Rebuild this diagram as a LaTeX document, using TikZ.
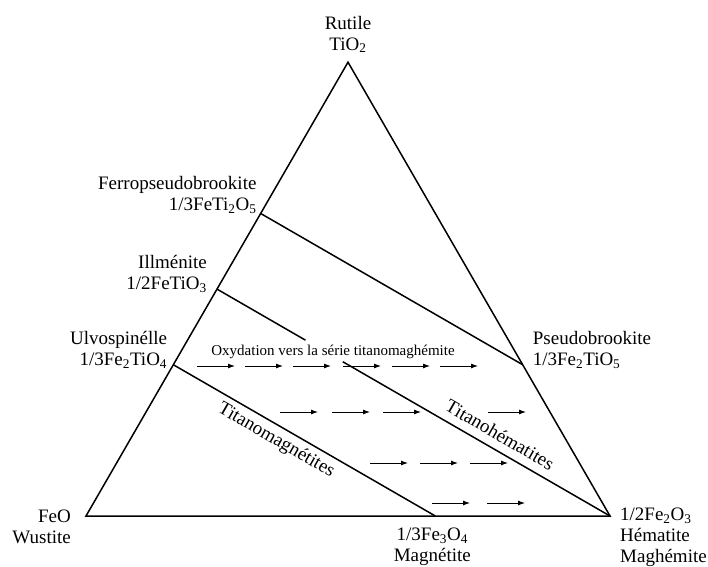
\documentclass[tikz,border=0pt]{standalone}
\usepackage{fontspec}
\setmainfont{Liberation Serif}
\usetikzlibrary{calc,arrows.meta}

\begin{document}
\begin{tikzpicture}[x=1pt,y=1pt,
  edge/.style={line width=1.5pt,line join=miter},
  lbl/.style={font=\fontsize{19}{21}\selectfont,inner sep=0pt},
  oxarrow/.style={line width=0.9pt,-{Latex[length=7pt,width=5pt]}}]
\useasboundingbox (0,0) rectangle (708,566);
\coordinate (FeO) at (86,50); \coordinate (Hem) at (610,50); \coordinate (Rut) at (348,503.8);
\coordinate (Ulv) at ($(FeO)!1/3!(Rut)$); \coordinate (Ilm) at ($(FeO)!1/2!(Rut)$);
\coordinate (Fpb) at ($(FeO)!2/3!(Rut)$); \coordinate (Psb) at ($(Hem)!1/3!(Rut)$);
\coordinate (Mag) at ($(FeO)!2/3!(Hem)$);
\draw[edge] (FeO)--(Hem)--(Rut)--cycle;
\draw[edge] (Fpb)--(Psb);
\draw[edge] (Ulv)--(Mag) node[lbl,pos=0.42,sloped,below=5pt] (tmag) {Titanomagnétites};
\draw[edge] (Ilm)--($(Ilm)!0.225!(Hem)$);
\draw[edge] ($(Ilm)!0.32!(Hem)$)--(Hem) node[lbl,pos=0.56,sloped,above=8pt] (them) {Titanohématites};
% labels of the end members
\node[lbl,align=center,anchor=south] (rutile) at ($(Rut)+(0,9)$) {Rutile\\TiO\textsubscript{2}};
\node[lbl,align=right,anchor=south east] (ferro) at ($(Fpb)+(-4,0)$) {Ferropseudobrookite\\1/3FeTi\textsubscript{2}O\textsubscript{5}};
\node[lbl,align=right,anchor=south east] (ilmen) at ($(Ilm)+(-10,-4)$) {Illménite\\1/2FeTiO\textsubscript{3}};
\node[lbl,align=right,anchor=south east] (ulvo) at ($(Ulv)+(-6,-4)$) {Ulvospinélle\\1/3Fe\textsubscript{2}TiO\textsubscript{4}};
\node[lbl,align=left,anchor=south west] (pseudo) at ($(Psb)+(10,-4)$) {Pseudobrookite\\1/3Fe\textsubscript{2}TiO\textsubscript{5}};
\node[lbl,align=right,anchor=north east] (wust) at ($(FeO)+(-15,6)$) {FeO\\Wustite};
\node[lbl,align=center,anchor=north] (magn) at ($(Mag)+(-3,-12)$) {1/3Fe\textsubscript{3}O\textsubscript{4}\\Magnétite};
\node[lbl,align=left,anchor=north west] (hemat) at ($(Hem)+(10,8)$) {1/2Fe\textsubscript{2}O\textsubscript{3}\\Hématite\\Maghémite};
\node[font=\fontsize{15}{17}\selectfont,inner sep=0pt] (oxy) at (333,214) {Oxydation vers la série titanomaghémite};
% oxidation arrows
\foreach \x in {197,245,293,343,392,440} \draw[oxarrow] (\x,200)--++(38,0);
\foreach \x in {280,332,383,488} \draw[oxarrow] (\x,154)--++(38,0);
\foreach \x in {370,420,470} \draw[oxarrow] (\x,103)--++(38,0);
\foreach \x in {432,487} \draw[oxarrow] (\x,63)--++(38,0);
\end{tikzpicture}
\end{document}
